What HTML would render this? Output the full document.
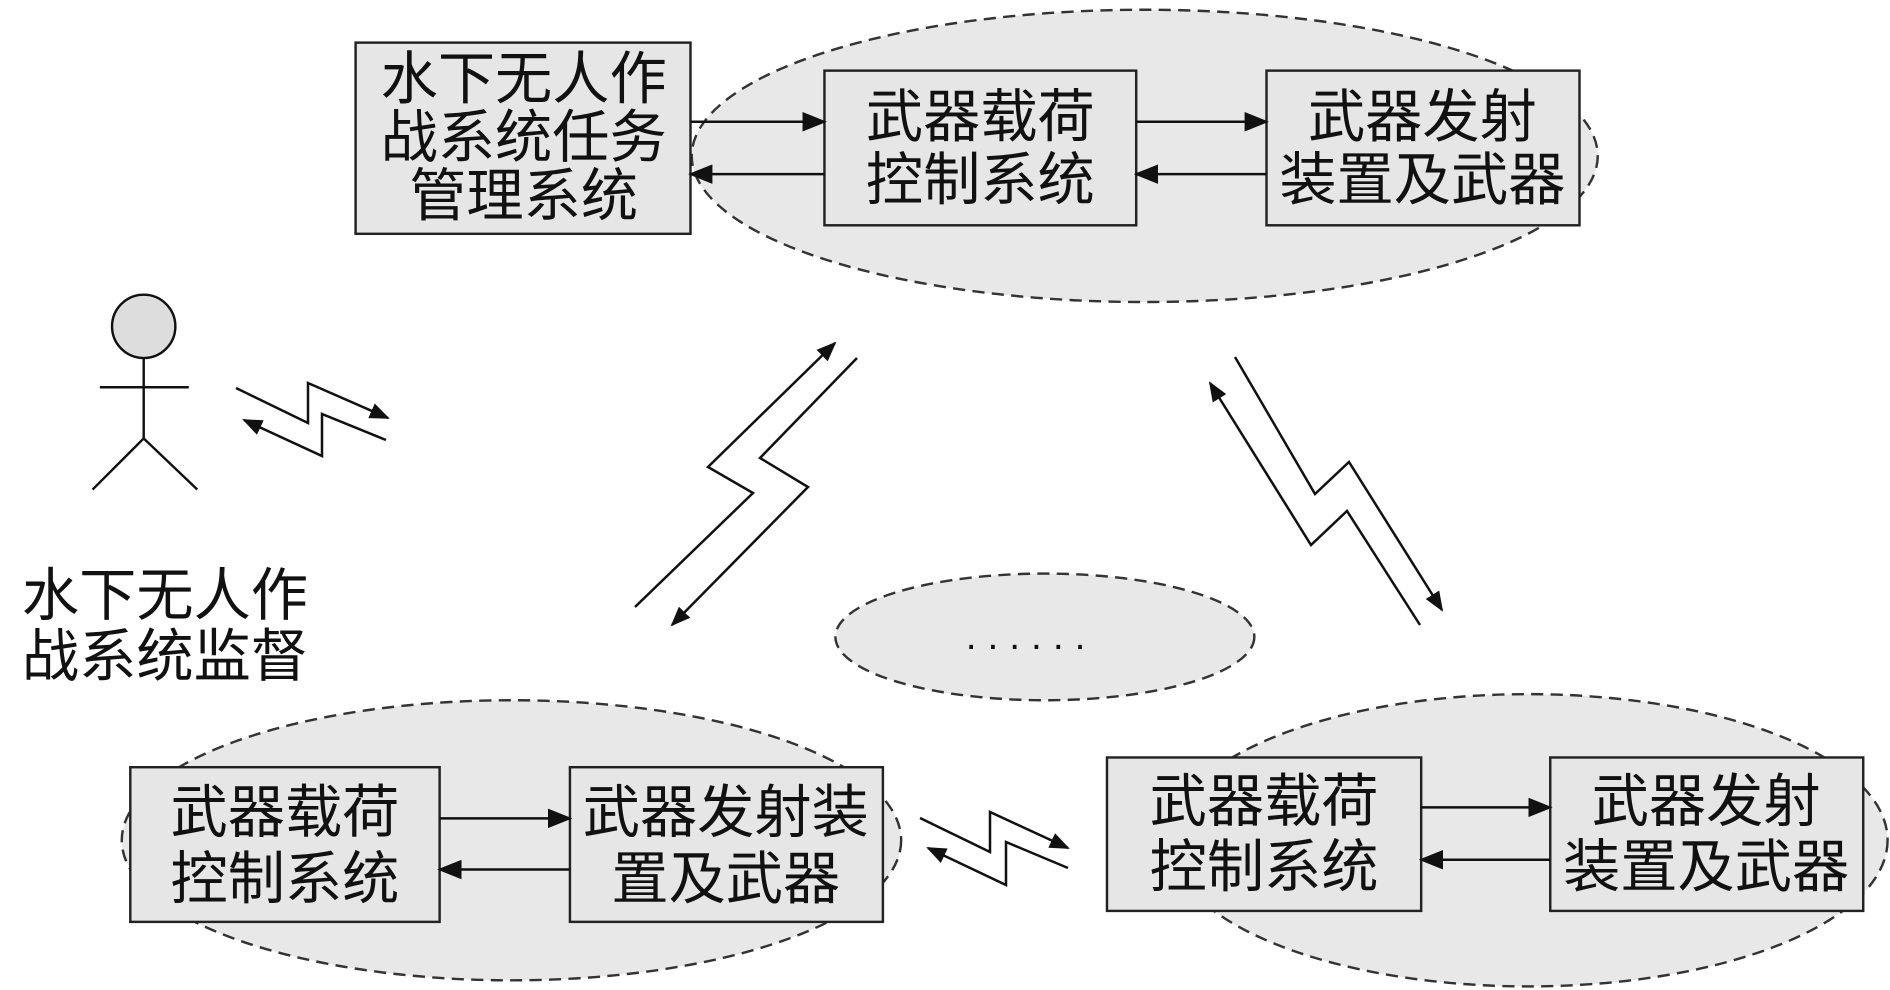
<!DOCTYPE html>
<html><head><meta charset="utf-8"><style>html,body{margin:0;padding:0;background:#fff}svg{display:block}</style></head>
<body>
<svg width="1890" height="990" viewBox="0 0 1890 990" xmlns="http://www.w3.org/2000/svg">
<defs>
<marker id="b" markerWidth="20" markerHeight="16" refX="18" refY="8" orient="auto" markerUnits="userSpaceOnUse"><path d="M0,0 L20,8 L0,16 z" fill="#111"/></marker>
</defs>
<g transform="scale(1.2178)" font-family="'Liberation Sans','Noto Sans CJK SC',sans-serif" font-size="47" fill="#111">
<g fill="#e8e8e8" stroke="#333" stroke-width="2" stroke-dasharray="10,6">
<ellipse cx="940" cy="128" rx="372" ry="120"/>
<ellipse cx="858" cy="523" rx="172" ry="52"/>
<ellipse cx="420" cy="690" rx="320" ry="115"/>
<ellipse cx="1255" cy="690" rx="295" ry="120"/>
</g>
<g fill="#e6e6e6" stroke="#222" stroke-width="2">
<rect x="292" y="35" width="275" height="157"/>
<rect x="677" y="58" width="256" height="127"/>
<rect x="1040" y="58" width="257" height="127"/>
<rect x="107" y="630" width="254" height="127"/>
<rect x="468" y="630" width="257" height="127"/>
<rect x="909" y="622" width="258" height="126"/>
<rect x="1273" y="622" width="257" height="126"/>
</g>
<g stroke="#111" stroke-width="2" fill="none">
<line x1="567" y1="100" x2="677" y2="100" marker-end="url(#b)"/>
<line x1="677" y1="143" x2="567" y2="143" marker-end="url(#b)"/>
<line x1="933" y1="100" x2="1040" y2="100" marker-end="url(#b)"/>
<line x1="1040" y1="143" x2="933" y2="143" marker-end="url(#b)"/>
<line x1="361" y1="672" x2="468" y2="672" marker-end="url(#b)"/>
<line x1="468" y1="714" x2="361" y2="714" marker-end="url(#b)"/>
<line x1="1167" y1="663" x2="1273" y2="663" marker-end="url(#b)"/>
<line x1="1273" y1="706" x2="1167" y2="706" marker-end="url(#b)"/>
<circle cx="118" cy="268" r="26" fill="#ddd"/>
<line x1="118" y1="294" x2="118" y2="360"/>
<line x1="82" y1="318" x2="155" y2="318"/>
<polyline points="76,402 118,360 162,402"/>
</g>
<g text-anchor="middle">
<text x="430" y="81">水下无人作</text><text x="430" y="129">战系统任务</text><text x="430" y="177">管理系统</text>
<text x="805" y="112">武器载荷</text><text x="805" y="164">控制系统</text>
<text x="1168" y="112">武器发射</text><text x="1168" y="164">装置及武器</text>
<text x="234" y="683">武器载荷</text><text x="234" y="738">控制系统</text>
<text x="596" y="683">武器发射装</text><text x="596" y="738">置及武器</text>
<text x="1038" y="674">武器载荷</text><text x="1038" y="728">控制系统</text>
<text x="1401" y="674">武器发射</text><text x="1401" y="728">装置及武器</text>
</g>
<text x="18" y="505">水下无人作</text><text x="18" y="555">战系统监督</text>
<text x="793" y="533" font-size="32" letter-spacing="9">......</text>
</g>
<g stroke="#111" stroke-width="2.5" fill="none">
<polyline points="635,607 753,493 708,467 835,343" marker-end="url(#b)"/>
<polyline points="857,358 760,458 808,487 672,625" marker-end="url(#b)"/>
<polyline points="1420,625 1347,511 1311,545 1210,383" marker-end="url(#b)"/>
<polyline points="1235,357 1315,494 1349,462 1442,610" marker-end="url(#b)"/>
<polyline points="236,388 308,423 308,383 388,418" marker-end="url(#b)"/>
<polyline points="386,440 322,414 322,456 244,420" marker-end="url(#b)"/>
<polyline points="920,818 990,852 990,812 1068,848" marker-end="url(#b)"/>
<polyline points="1068,868 1006,842 1006,885 928,848" marker-end="url(#b)"/>
</g>
</svg>
</body></html>
